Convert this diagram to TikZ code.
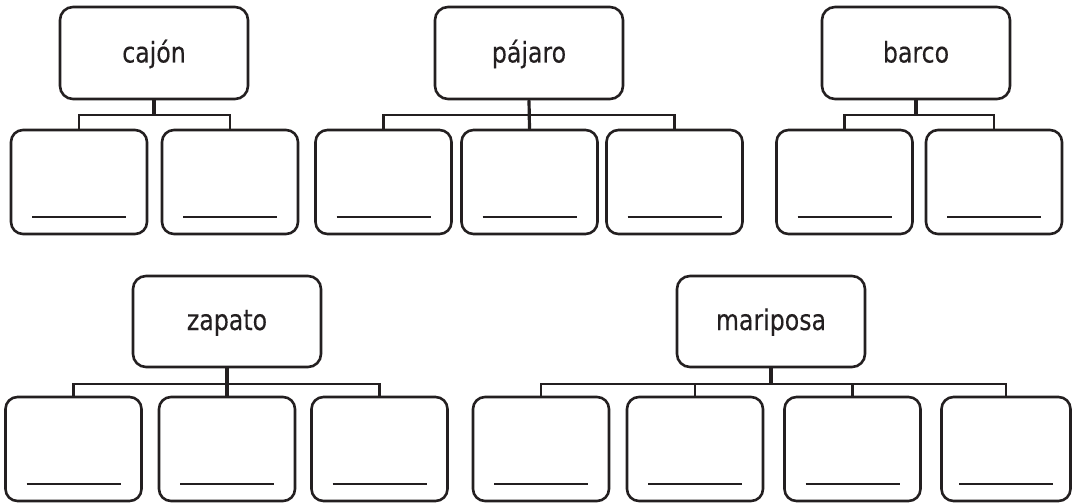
\documentclass[tikz,border=0pt]{standalone}
\usepackage{fontspec}
\setmainfont{DejaVu Sans}[FakeStretch=0.83,FakeBold=0.3]
\definecolor{ink}{HTML}{231F20}
\tikzset{
  parentbox/.style={draw=ink, line width=2.6pt, rounded corners=13pt, minimum width=188pt, minimum height=92pt, inner sep=0pt},
  wordtext/.style={text=ink, font=\fontsize{28.5}{34}\selectfont, anchor=base, inner sep=0pt},
  childbox/.style={draw=ink, line width=2.6pt, rounded corners=12pt, minimum width=136pt, minimum height=104pt, inner sep=0pt},
  stemline/.style={draw=ink, line width=3.2pt},
  barline/.style={draw=ink, line width=2.3pt},
  blank/.style={draw=ink, line width=1.8pt},
}
\newcommand{\blankline}[1]{\draw[blank] ([xshift=-47pt,yshift=18pt]#1.south) -- ([xshift=47pt,yshift=18pt]#1.south);}
\begin{document}
\begin{tikzpicture}[x=1pt,y=-1pt]
\useasboundingbox (0,0) rectangle (1072,503);
% parents
\node[parentbox] (cajon) at (154,53) {};
\node[wordtext] (tcajon) at (154,62.5) {cajón};
\node[parentbox] (pajaro) at (529,53) {};
\node[wordtext] (tpajaro) at (529,62.5) {pájaro};
\node[parentbox] (barco) at (916,53) {};
\node[wordtext] (tbarco) at (916,62.5) {barco};
\node[parentbox, minimum height=91pt] (zapato) at (227,321.5) {};
\node[wordtext] (tzapato) at (227,330) {zapato};
\node[parentbox, minimum height=91pt] (mariposa) at (771,321.5) {};
\node[wordtext] (tmariposa) at (771,330) {mariposa};
% children row 1
\node[childbox] (c1) at (79,182) {};
\node[childbox] (c2) at (230,182) {};
\node[childbox] (p1) at (383.5,182) {};
\node[childbox] (p2) at (529.5,182) {};
\node[childbox] (p3) at (674.5,182) {};
\node[childbox] (b1) at (844.5,182) {};
\node[childbox] (b2) at (994,182) {};
% children row 2
\node[childbox] (z1) at (73.5,449) {};
\node[childbox] (z2) at (227,449) {};
\node[childbox] (z3) at (379.5,449) {};
\node[childbox] (m1) at (541,449) {};
\node[childbox] (m2) at (695,449) {};
\node[childbox] (m3) at (852.5,449) {};
\node[childbox, minimum width=129pt] (m4) at (1006,449) {};
% blanks
\foreach \c in {c1,c2,p1,p2,p3,b1,b2,z1,z2,z3,m1,m2,m3,m4}{\blankline{\c}}
% connectors
\foreach \p/\c in {cajon/c1,cajon/c2,pajaro/p1,pajaro/p2,pajaro/p3,barco/b1,barco/b2}{
  \draw[barline] (\p.south) -- ++(0,15) -| (\c.north);
}
\foreach \p/\c in {zapato/z1,zapato/z2,zapato/z3,mariposa/m1,mariposa/m2,mariposa/m3,mariposa/m4}{
  \draw[barline] (\p.south) -- ++(0,16) -| (\c.north);
}
\draw[stemline] (cajon.south) -- ++(0,15);
\draw[stemline] (pajaro.south) -- (p2.north);
\draw[stemline] (barco.south) -- ++(0,15);
\draw[stemline] (zapato.south) -- (z2.north);
\draw[stemline] (mariposa.south) -- ++(0,16);
\end{tikzpicture}
\end{document}
